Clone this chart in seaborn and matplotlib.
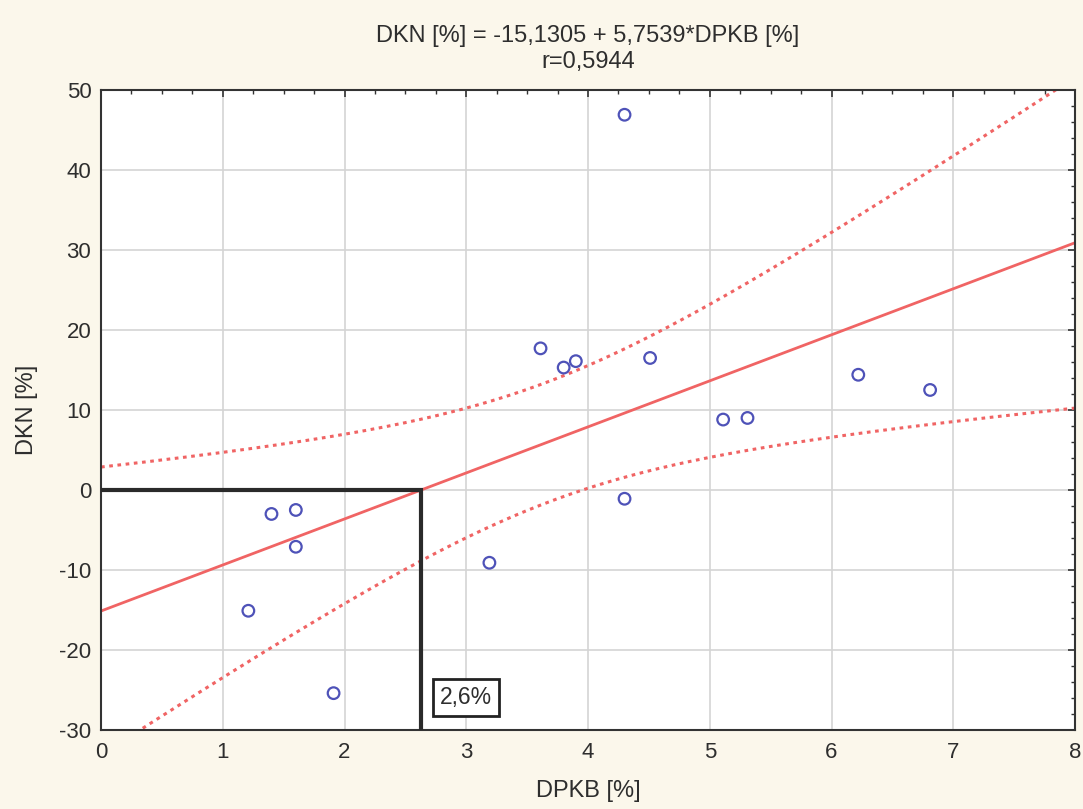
import numpy as np
import pandas as pd
import matplotlib
matplotlib.use("Agg")
import matplotlib.pyplot as plt
from matplotlib.ticker import MultipleLocator
import seaborn as sns

# values
dpkb = [1.40, 1.60, 1.60, 1.21, 1.91, 3.19, 3.61, 3.80, 3.90, 4.30, 4.51, 4.30, 5.11, 5.31, 6.22, 6.81]
dkn = [-3.0, -2.5, -7.1, -15.1, -25.4, -9.1, 17.7, 15.3, 16.1, 46.9, 16.5, -1.1, 8.8, 9.0, 14.4, 12.5]
intercept = -15.1305
slope = 5.7539
r_value = 0.5944
cut_label = "2,6%"

df = pd.DataFrame({"DPKB": dpkb, "DKN": dkn})

# confidence band for the mean (95%)
x = np.array(dpkb)
y = np.array(dkn)
n = len(x)
fit = intercept + slope * x
s = np.sqrt(np.sum((y - fit) ** 2) / (n - 2))
t_crit = 2.145
xs = np.linspace(0, 8, 200)
ys = intercept + slope * xs
half = t_crit * s * np.sqrt(1 / n + (xs - x.mean()) ** 2 / np.sum((x - x.mean()) ** 2))
band = pd.DataFrame({"x": xs, "fit": ys, "lo": ys - half, "hi": ys + half})

x0 = -intercept / slope

sns.set_style("white")
plt.rcParams["font.family"] = ["Liberation Sans", "DejaVu Sans"]
plt.rcParams["axes.unicode_minus"] = False

bg = "#fbf7eb"
red = "#f06464"
txt = "#2e2e2e"
fig = plt.figure(figsize=(10.83, 8.09), dpi=100, facecolor=bg)
ax = fig.add_axes([0.0933, 0.0977, 0.8993, 0.7911])
ax.set_facecolor("white")

sns.lineplot(data=band, x="x", y="fit", color=red, lw=2, ax=ax)
sns.lineplot(data=band, x="x", y="lo", color=red, lw=2.2, ls=(0, (1.2, 1.5)), ax=ax)
sns.lineplot(data=band, x="x", y="hi", color=red, lw=2.2, ls=(0, (1.2, 1.5)), ax=ax)
sns.scatterplot(data=df, x="DPKB", y="DKN", marker="o", s=70, facecolors="none",
                edgecolor="#4e52b8", linewidth=1.6, ax=ax, zorder=5)

ax.plot([0, x0, x0], [0, 0, -30], color="#2a2a2a", lw=3, zorder=6, solid_joinstyle="miter")
ax.text(3.0, -25.9, cut_label, ha="center", va="center", fontsize=16.5, color=txt,
        bbox=dict(boxstyle="square,pad=0.3", fc="white", ec="#222222", lw=2), zorder=7)

ax.set_xlim(0, 8)
ax.set_ylim(-30, 50)
ax.xaxis.set_major_locator(MultipleLocator(1))
ax.xaxis.set_minor_locator(MultipleLocator(0.25))
ax.yaxis.set_major_locator(MultipleLocator(10))
ax.yaxis.set_minor_locator(MultipleLocator(2))
ax.grid(True, which="major", color="#d4d4d4", lw=1.2)
ax.tick_params(which="both", direction="in", top=True, right=True, color="#333333",
               labelcolor=txt)
ax.tick_params(which="major", length=5, width=1.2, labelsize=16)
ax.tick_params(axis="x", which="major", pad=9)
ax.tick_params(axis="y", which="major", pad=7)
ax.tick_params(which="minor", length=3, width=1)
for sp in ax.spines.values():
    sp.set_color("#333333")
    sp.set_linewidth(1.5)

ax.set_xlabel("DPKB [%]", fontsize=17, labelpad=12, color=txt)
ax.set_ylabel("DKN [%]", fontsize=17, labelpad=15, color=txt)
ax.set_title(f"DKN [%] = {intercept:.4f} + {slope:.4f}*DPKB [%]\nr={r_value:.4f}".replace(".", ","),
             fontsize=17, pad=16, linespacing=1.2, color=txt)

fig.savefig("out.png", dpi=100, facecolor=bg)
